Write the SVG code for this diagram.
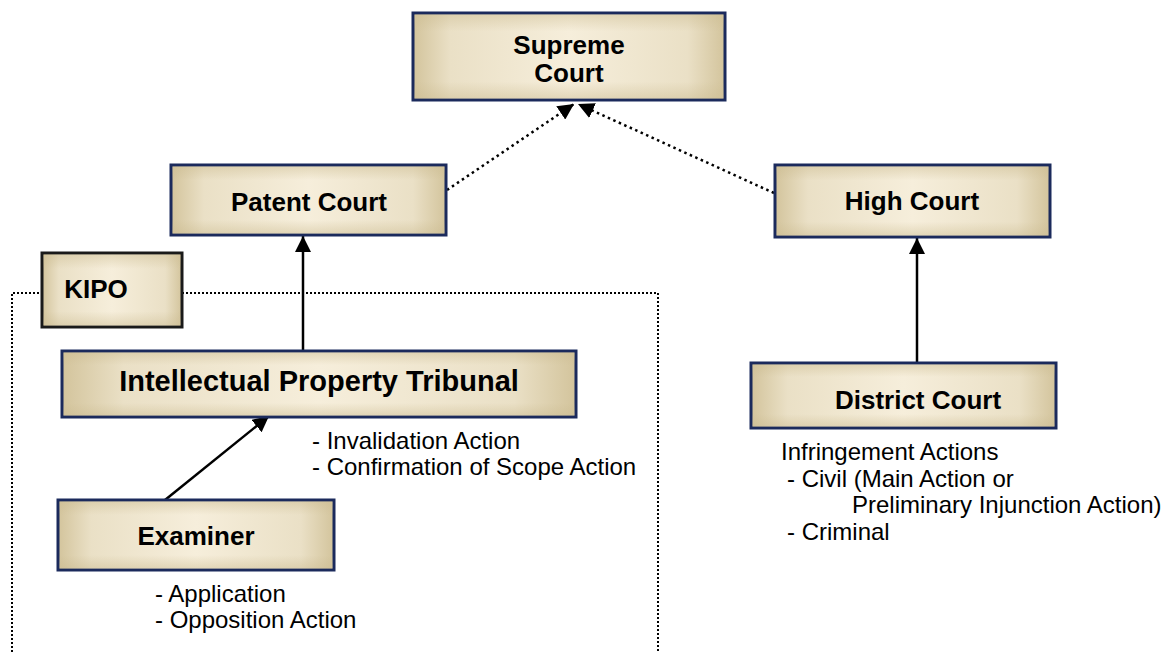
<svg xmlns="http://www.w3.org/2000/svg" width="1165" height="652" viewBox="0 0 1165 652">
  <defs>
    <linearGradient id="gh" x1="0" y1="0" x2="1" y2="0">
      <stop offset="0" stop-color="#d3c49c"/>
      <stop offset="0.12" stop-color="#eae0c6"/>
      <stop offset="0.5" stop-color="#f6eedb"/>
      <stop offset="0.88" stop-color="#eae0c6"/>
      <stop offset="1" stop-color="#d3c49c"/>
    </linearGradient>
    <linearGradient id="gv" x1="0" y1="0" x2="0" y2="1">
      <stop offset="0" stop-color="#cbbb90" stop-opacity="0.45"/>
      <stop offset="0.2" stop-color="#cbbb90" stop-opacity="0"/>
      <stop offset="0.8" stop-color="#cbbb90" stop-opacity="0"/>
      <stop offset="1" stop-color="#cbbb90" stop-opacity="0.45"/>
    </linearGradient>
    <marker id="ah" viewBox="0 0 16 16" refX="16" refY="8" markerWidth="16" markerHeight="16" markerUnits="userSpaceOnUse" orient="auto">
      <path d="M0,0 L16,8 L0,16 Z" fill="#000"/>
    </marker>
    <marker id="ahs" viewBox="0 0 16 16" refX="16" refY="8" markerWidth="16" markerHeight="16" markerUnits="userSpaceOnUse" orient="auto">
      <path d="M0,0 L16,8 L0,16 Z" fill="#000"/>
    </marker>
  </defs>
  <style>
    .box { fill: url(#gh); stroke: #1b2a5c; stroke-width: 3; }
    .shade { fill: url(#gv); stroke: none; }
    .kbox { fill: url(#gh); stroke: #1a1a1a; stroke-width: 3; }
    .lbl { font-family: "Liberation Sans", Arial, sans-serif; font-weight: bold; font-size: 26px; fill: #000; text-anchor: middle; }
    .big { font-size: 29px; }
    .note { font-family: "Liberation Sans", Arial, sans-serif; font-size: 24px; fill: #000; }
    .solid { fill: none; stroke: #000; stroke-width: 2.5; }
    .dotted { fill: none; stroke: #000; stroke-width: 2.5; stroke-dasharray: 2.5 3.5; }
    .bound { fill: none; stroke: #000; stroke-width: 2; stroke-dasharray: 2 2; }
  </style>

  <g id="kipo-boundary">
    <path class="bound" d="M12,652 L12,293 L42,293 M182,293 L658,293 L658,652"/>
  </g>

  <g id="connectors">
    <line class="dotted" x1="447" y1="190" x2="574" y2="104" marker-end="url(#ah)"/>
    <line class="dotted" x1="774" y1="193" x2="578" y2="104" marker-end="url(#ah)"/>
    <line class="solid" x1="303" y1="351" x2="303" y2="236" marker-end="url(#ahs)"/>
    <line class="solid" x1="917" y1="363" x2="917" y2="238" marker-end="url(#ahs)"/>
    <line class="solid" x1="165" y1="500" x2="269" y2="416" marker-end="url(#ahs)"/>
  </g>

  <g id="supreme-court">
    <rect class="box" x="413" y="13" width="312" height="87"/>
    <rect class="shade" x="414.5" y="14.5" width="309" height="84"/>
    <text class="lbl" x="569" y="54">Supreme</text>
    <text class="lbl" x="569" y="82">Court</text>
  </g>

  <g id="patent-court">
    <rect class="box" x="171" y="165" width="275" height="70"/>
    <rect class="shade" x="172.5" y="166.5" width="272" height="67"/>
    <text class="lbl" x="309" y="211">Patent Court</text>
  </g>

  <g id="high-court">
    <rect class="box" x="775" y="165" width="275" height="72"/>
    <rect class="shade" x="776.5" y="166.5" width="272" height="69"/>
    <text class="lbl" x="912" y="210">High Court</text>
  </g>

  <g id="kipo">
    <rect class="kbox" x="42" y="253" width="140" height="74"/>
    <rect class="shade" x="43.5" y="254.5" width="137" height="71"/>
    <text class="lbl" x="96" y="298">KIPO</text>
  </g>

  <g id="ip-tribunal">
    <rect class="box" x="62" y="351" width="514" height="66"/>
    <rect class="shade" x="63.5" y="352.5" width="511" height="63"/>
    <text class="lbl big" x="319" y="391">Intellectual Property Tribunal</text>
  </g>

  <g id="examiner">
    <rect class="box" x="58" y="500" width="276" height="70"/>
    <rect class="shade" x="59.5" y="501.5" width="273" height="67"/>
    <text class="lbl" x="196" y="545">Examiner</text>
  </g>

  <g id="district-court">
    <rect class="box" x="751" y="363" width="305" height="65"/>
    <rect class="shade" x="752.5" y="364.5" width="302" height="62"/>
    <text class="lbl" x="918" y="409">District Court</text>
  </g>

  <g id="notes">
    <text class="note" x="312" y="449">- Invalidation Action</text>
    <text class="note" x="312" y="475">- Confirmation of Scope Action</text>
    <text class="note" x="781" y="460">Infringement Actions</text>
    <text class="note" x="787" y="487">- Civil (Main Action or</text>
    <text class="note" x="852" y="513">Preliminary Injunction Action)</text>
    <text class="note" x="787" y="540">- Criminal</text>
    <text class="note" x="155" y="602">- Application</text>
    <text class="note" x="155" y="628">- Opposition Action</text>
  </g>
</svg>
